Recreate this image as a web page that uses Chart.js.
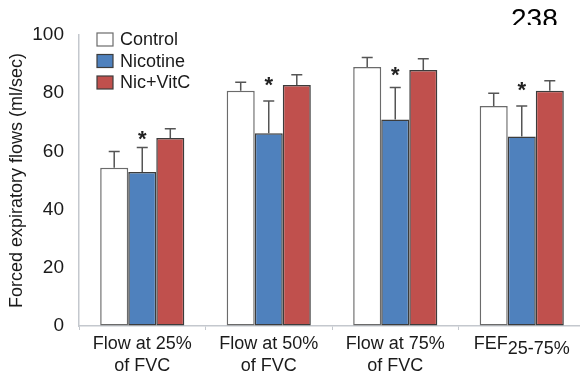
<!DOCTYPE html>
<html>
<head>
<meta charset="utf-8">
<script src="https://cdn.jsdelivr.net/npm/chart.js@4"></script>
<style>
  html, body { margin: 0; padding: 0; background: #fff; overflow: hidden; }
  #wrap { position: relative; width: 580px; height: 373px; overflow: hidden; }
  #fig { position: absolute; left: 0; top: 0; }
</style>
</head>
<body>
<div id="wrap">
  <canvas id="fig" width="586" height="373"></canvas>
</div>
<script>
const categories = [['Flow at 25%', 'of FVC'], ['Flow at 50%', 'of FVC'], ['Flow at 75%', 'of FVC'], 'FEF25-75%'];
const seriesNames = ['Control', 'Nicotine', 'Nic+VitC'];
const control = [54.4, 80.8, 89.0, 75.6];
const nicotine = [52.9, 66.2, 71.0, 65.1];
const nicVitC = [64.6, 82.8, 88.0, 80.8];
// upper end of each error bar
const controlErr = [60.0, 83.8, 92.3, 80.0];
const nicotineErr = [61.3, 77.3, 82.0, 75.6];
const nicVitCErr = [67.8, 86.3, 91.8, 84.3];
// where the significance star sits (over the Nicotine bar)
const starAt = [66.4, 84.9, 88.3, 83.2];
const yTicks = [0, 20, 40, 60, 80, 100];
const pageNumber = '238';

const font = '"Liberation Sans", Arial, sans-serif';
const fills = ['#ffffff', '#4f81bd', '#c0504d'];
const edges = ['#6b6b6b', '#3c3c3c', '#3c3c3c'];

const extras = {
  id: 'extras',
  afterDatasetsDraw(chart) {
    const ctx = chart.ctx;
    const y = chart.scales.y;
    const errs = [controlErr, nicotineErr, nicVitCErr];
    ctx.save();
    ctx.strokeStyle = '#555';
    ctx.lineWidth = 1.5;
    errs.forEach((arr, di) => {
      const meta = chart.getDatasetMeta(di);
      meta.data.forEach((bar, i) => {
        const top = y.getPixelForValue(arr[i]);
        ctx.beginPath();
        ctx.moveTo(bar.x, bar.y);
        ctx.lineTo(bar.x, top);
        ctx.moveTo(bar.x - 5.5, top);
        ctx.lineTo(bar.x + 5.5, top);
        ctx.stroke();
      });
    });
    // stars
    ctx.fillStyle = '#222';
    ctx.font = 'bold 22px ' + font;
    ctx.textAlign = 'center';
    ctx.textBaseline = 'alphabetic';
    chart.getDatasetMeta(1).data.forEach((bar, i) => {
      ctx.fillText('*', bar.x, y.getPixelForValue(starAt[i]) + 13);
    });
    ctx.restore();
  },
  afterDraw(chart) {
    const ctx = chart.ctx;
    const x = chart.scales.x;
    ctx.save();
    // legend in upper left of plot
    ctx.font = '18px ' + font;
    ctx.textBaseline = 'middle';
    ctx.textAlign = 'left';
    seriesNames.forEach((name, i) => {
      const top = 33 + i * 21.5;
      ctx.fillStyle = fills[i];
      ctx.fillRect(97, top, 16, 13);
      ctx.strokeStyle = edges[i];
      ctx.lineWidth = 1.2;
      ctx.strokeRect(97, top, 16, 13);
      ctx.fillStyle = '#1a1a1a';
      ctx.fillText(name, 120, top + 7.5);
    });
    // FEF with subscript
    const cx = x.getPixelForTick(3);
    const base = x.top + 23;
    const w1 = ctx.measureText('FEF').width;
    const w2 = ctx.measureText('25-75%').width;
    const left = cx - (w1 + w2) / 2;
    ctx.textBaseline = 'alphabetic';
    ctx.fillText('FEF', left, base);
    ctx.fillText('25-75%', left + w1, base + 5);
    // page number, cut off at its foot like the scan
    ctx.beginPath();
    ctx.rect(0, 0, chart.width, 25);
    ctx.clip();
    ctx.fillStyle = '#000';
    ctx.font = '28px ' + font;
    ctx.fillText(pageNumber, 511, 27.5);
    ctx.restore();
  }
};

new Chart(document.getElementById('fig'), {
  type: 'bar',
  data: {
    labels: categories,
    datasets: [
      { label: seriesNames[0], data: control, backgroundColor: fills[0], borderColor: edges[0], borderWidth: 1.5, borderSkipped: false },
      { label: seriesNames[1], data: nicotine, backgroundColor: fills[1], borderColor: edges[1], borderWidth: 1.5, borderSkipped: false },
      { label: seriesNames[2], data: nicVitC, backgroundColor: fills[2], borderColor: edges[2], borderWidth: 1.5, borderSkipped: false }
    ]
  },
  options: {
    responsive: false,
    animation: false,
    devicePixelRatio: 1,
    categoryPercentage: 0.665,
    barPercentage: 1.0,
    layout: { padding: { top: 35, right: 1, left: 0, bottom: 0 } },
    plugins: { legend: { display: false }, tooltip: { enabled: false } },
    scales: {
      x: {
        grid: { drawOnChartArea: false, color: '#c4c8ce', tickLength: 4 },
        border: { color: '#c4c8ce', width: 1.5 },
        ticks: {
          color: '#1a1a1a',
          font: { family: font, size: 18, lineHeight: 1.22 },
          padding: 3,
          maxRotation: 0,
          autoSkip: false,
          callback: (v, i) => (i === 3 ? '' : categories[i])
        },
        afterFit: s => { s.height = 47; }
      },
      y: {
        min: 0,
        max: 100,
        afterBuildTicks: s => { s.ticks = yTicks.map(v => ({ value: v })); },
        grid: { drawOnChartArea: false, drawTicks: false },
        border: { color: '#c4c8ce', width: 1.5 },
        ticks: { color: '#1a1a1a', font: { family: font, size: 19 }, padding: 15 },
        title: {
          display: true,
          text: 'Forced expiratory flows (ml/sec)',
          color: '#1a1a1a',
          font: { family: font, size: 18 },
          padding: { top: 6, bottom: 0 }
        },
        afterFit: s => { s.width = 79; }
      }
    }
  },
  plugins: [extras]
});
</script>
</body>
</html>
